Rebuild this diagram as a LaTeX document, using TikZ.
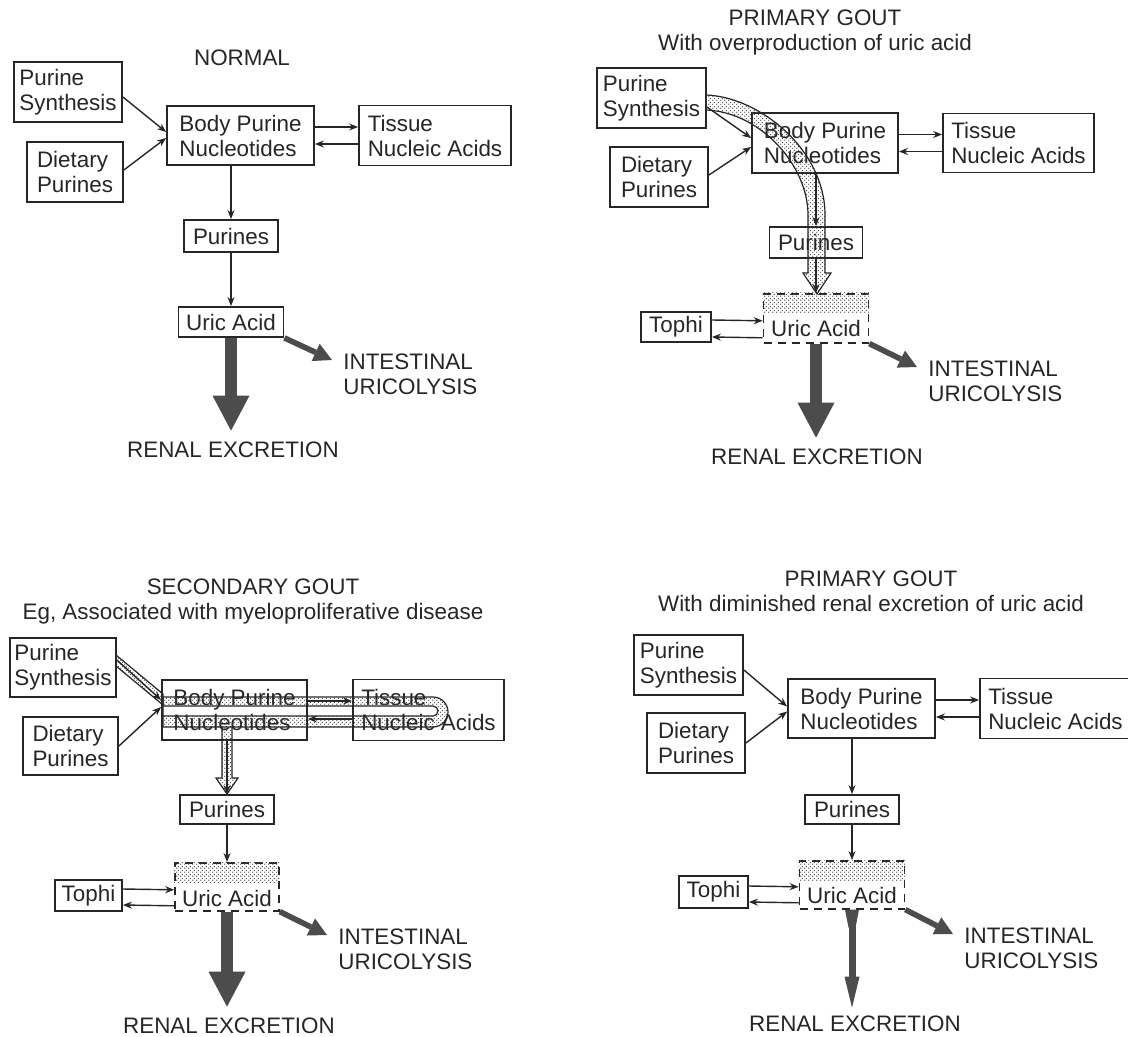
\documentclass[tikz,border=0pt]{standalone}
\usepackage{fontspec}
\setmainfont{Liberation Sans}
\usetikzlibrary{arrows.meta,patterns,calc}

\newcommand\diagfont{\fontsize{11.2}{12.5}\selectfont}
\definecolor{ink}{gray}{0.15}
\definecolor{heavy}{gray}{0.3}

% fine stipple for the extra uric acid
\pgfdeclarepatternformonly{fine dots}{\pgfpointorigin}{\pgfqpoint{2pt}{2pt}}{\pgfqpoint{2pt}{2pt}}{%
  \pgfpathcircle{\pgfqpoint{0.5pt}{0.5pt}}{0.42pt}%
  \pgfpathcircle{\pgfqpoint{1.5pt}{1.5pt}}{0.42pt}%
  \pgfusepath{fill}}

\tikzset{
  box/.style={draw=ink, line width=0.9pt, align=left, inner sep=2pt, font=\diagfont, text=ink},
  pool/.style={draw=ink, dash pattern=on 4pt off 3pt, line width=0.8pt, inner sep=0pt, font=\diagfont, text=ink},
  flow/.style={draw=ink, line width=0.7pt, -{Stealth[length=4.5pt,width=3.5pt]}},
  renal/.style={draw=heavy, line width=6pt, shorten >=5.5pt, -{Triangle[length=17.5pt,width=18.5pt,line width=0pt]}},
  gut/.style={draw=heavy, line width=2.8pt, -{Triangle[length=9pt,width=9.5pt,line width=0pt]}},
  stipple/.style={pattern=fine dots, pattern color=ink!80},
  band/.style={draw=ink, line width=0.6pt, stipple},
  lbl/.style={font=\diagfont, text=ink, align=left, inner sep=0pt},
  ttl/.style={font=\diagfont, text=ink, align=center, inner sep=0pt}
}

\begin{document}
\begin{tikzpicture}[x=0.5pt, y=-0.5pt]
\useasboundingbox (0,0) rectangle (1128,1037);

%% normal
\node[ttl] (t1) at (242,58) {NORMAL};
\node[box, minimum width=54pt, minimum height=30pt] (ps1) at (68,92) {Purine\\Synthesis};
\node[box, minimum width=48pt, minimum height=30pt] (dp1) at (75,172) {Dietary\\Purines};
\node[box, minimum width=73.5pt, minimum height=29.5pt] (bpn1) at (240.5,135.5) {Body Purine\\Nucleotides};
\node[box, minimum width=76pt, minimum height=30pt] (tna1) at (435,135.5) {Tissue\\Nucleic Acids};
\node[box, minimum width=47pt, minimum height=16pt] (pur1) at (231,236) {Purines};
\node[box, minimum width=52.5pt, minimum height=15pt] (ua1) at (231,322) {Uric Acid};
\node[lbl, anchor=north west] (in1) at (343,353) {INTESTINAL\\URICOLYSIS};
\node[lbl] (re1) at (233,450) {RENAL EXCRETION};
\draw[flow] ([yshift=-2.5pt]ps1.east) -- ([yshift=1.75pt]bpn1.west);
\draw[flow] ([yshift=1pt]dp1.east) -- ([yshift=-1.25pt]bpn1.west);
\draw[flow] ([yshift=4.25pt]bpn1.east) -- ([yshift=4.25pt]tna1.west);
\draw[flow] ([yshift=-4.25pt]tna1.west) -- ([yshift=-4.25pt]bpn1.east);
\draw[flow] (bpn1.south -| pur1.north) -- (pur1.north);
\draw[flow] (pur1.south) -- (ua1.north);
\draw[renal] (ua1.south) -- (ua1.south |- re1.north);
\draw[gut] (ua1.south east) -- ([xshift=-5.5pt,yshift=-3.5pt]in1.north west);

%% primary gout, overproduction
\node[ttl] (t2) at (815,33) {PRIMARY GOUT\\With overproduction of uric acid};
\node[box, minimum width=54.5pt, minimum height=30pt] (ps2) at (651.5,98) {Purine\\Synthesis};
\node[box, minimum width=49pt, minimum height=30pt] (dp2) at (659,177) {Dietary\\Purines};
\node[box, minimum width=73pt, minimum height=30pt] (bpn2) at (825,143) {Body Purine\\Nucleotides};
\node[box, minimum width=75.5pt, minimum height=29.5pt] (tna2) at (1018.5,143) {Tissue\\Nucleic Acids};
\node[box, minimum width=46.5pt, minimum height=15.5pt] (pur2) at (816,242.5) {Purines};
\node[pool, anchor=north, minimum width=52.5pt, text height=21.5pt, text depth=3pt] (ua2) at (816,293) {Uric Acid};
\node[box, minimum width=35pt, minimum height=15pt] (to2) at (676,327) {Tophi};
\node[lbl, anchor=north west] (in2) at (928,360) {INTESTINAL\\URICOLYSIS};
\node[lbl] (re2) at (817,457) {RENAL EXCRETION};
\fill[stipple] (ua2.north west) rectangle ($(ua2.north east)+(0,20)$);
% extra synthesis goes straight to the pool
\filldraw[band] (706,95) .. controls (760,97) and (825,150) .. (825,215) -- (825,273) -- (831,273) -- (817,294)
  -- (803,273) -- (808,273) -- (808,215) .. controls (808,165) and (760,112) .. (706,110) -- cycle;
\draw[flow] ([yshift=-4.5pt]ps2.east) -- ([yshift=2.5pt]bpn2.west);
\draw[flow] ([yshift=1pt]dp2.east) -- ([yshift=-2pt]bpn2.west);
\draw[flow] ([yshift=4.25pt]bpn2.east) -- ([yshift=4.25pt]tna2.west);
\draw[flow] ([yshift=-4.25pt]tna2.west) -- ([yshift=-4.25pt]bpn2.east);
\draw[flow] (bpn2.south -| pur2.north) -- (pur2.north);
\draw[flow] (pur2.south) -- (ua2.north);
\draw[flow] ([yshift=3.5pt]to2.east) -- ([yshift=-1.25pt]ua2.west);
\draw[flow] ([yshift=-9.75pt]ua2.west) -- ([yshift=-5pt]to2.east);
\draw[renal] (ua2.south) -- (ua2.south |- re2.north);
\draw[gut] (ua2.south east) -- ([xshift=-5.5pt,yshift=-3.5pt]in2.north west);

%% secondary gout
\node[ttl] (t3) at (253,601) {SECONDARY GOUT\\Eg, Associated with myeloproliferative disease};
\node[box, minimum width=53pt, minimum height=29.5pt] (ps3) at (63,667.5) {Purine\\Synthesis};
\node[box, minimum width=47.5pt, minimum height=29pt] (dp3) at (70.5,746) {Dietary\\Purines};
\node[box, minimum width=72.5pt, minimum height=30pt] (bpn3) at (234.5,710) {Body Purine\\Nucleotides};
\node[box, minimum width=75.5pt, minimum height=30.5pt] (tna3) at (428.5,710) {Tissue\\Nucleic Acids};
\node[box, minimum width=47pt, minimum height=14.5pt] (pur3) at (227,809.5) {Purines};
\node[pool, anchor=north, minimum width=52pt, text height=22pt, text depth=2pt] (ua3) at (227,862) {Uric Acid};
\node[box, minimum width=33.5pt, minimum height=15.5pt] (to3) at (88.5,895.5) {Tophi};
\node[lbl, anchor=north west] (in3) at (338,928) {INTESTINAL\\URICOLYSIS};
\node[lbl] (re3) at (229,1026) {RENAL EXCRETION};
\fill[stipple] (ua3.north west) rectangle ($(ua3.north east)+(0,20)$);
% faster turnover through the tissues
\filldraw[band] (116,655) -- (163,694) -- (163,705) -- (116,666) -- cycle;
\filldraw[band, even odd rule] (163,697) -- (433,697) arc (-90:90:15) -- (163,727) -- cycle
  (163,706) -- (433,706) arc (-90:90:5) -- (163,716) -- cycle;
\filldraw[band] (222,727) -- (222,778) -- (216,778) -- (227,794) -- (238,778) -- (232,778) -- (232,727);
\draw[flow] ([yshift=3.75pt]ps3.east) -- ([yshift=5pt]bpn3.west);
\draw[flow] (dp3.east) -- ([yshift=1.5pt]bpn3.west);
\draw[flow] ([yshift=4.5pt]bpn3.east) -- ([yshift=4.5pt]tna3.west);
\draw[flow] ([yshift=-4.5pt]tna3.west) -- ([yshift=-4.5pt]bpn3.east);
\draw[flow] (bpn3.south -| pur3.north) -- (pur3.north);
\draw[flow] (pur3.south) -- (ua3.north);
\draw[flow] ([yshift=3.25pt]to3.east) -- ([yshift=-1.5pt]ua3.west);
\draw[flow] ([yshift=-9.5pt]ua3.west) -- ([yshift=-4.75pt]to3.east);
\draw[renal] (ua3.south) -- (ua3.south |- re3.north);
\draw[gut] (ua3.south east) -- ([xshift=-5.5pt,yshift=-3.5pt]in3.north west);

%% primary gout, poor renal excretion
\node[ttl] (t4) at (871,591) {PRIMARY GOUT\\With diminished renal excretion of uric acid};
\node[box, minimum width=54.5pt, minimum height=30pt] (ps4) at (688.5,665) {Purine\\Synthesis};
\node[box, minimum width=49pt, minimum height=30pt] (dp4) at (696,743) {Dietary\\Purines};
\node[box, minimum width=73.5pt, minimum height=29.5pt] (bpn4) at (861.5,708.5) {Body Purine\\Nucleotides};
\node[box, minimum width=75.5pt, minimum height=30pt] (tna4) at (1055.5,708.5) {Tissue\\Nucleic Acids};
\node[box, minimum width=47pt, minimum height=14.5pt] (pur4) at (852,809.5) {Purines};
\node[pool, anchor=north, minimum width=52.5pt, text height=21.5pt, text depth=2.5pt] (ua4) at (852,860) {Uric Acid};
\node[box, minimum width=34.5pt, minimum height=16pt] (to4) at (713.5,892) {Tophi};
\node[lbl, anchor=north west] (in4) at (964,927) {INTESTINAL\\URICOLYSIS};
\node[lbl] (re4) at (855,1024) {RENAL EXCRETION};
\fill[stipple] (ua4.north west) rectangle ($(ua4.north east)+(0,20)$);
\draw[flow] ([yshift=-2.5pt]ps4.east) -- ([yshift=1pt]bpn4.west);
\draw[flow] (dp4.east) -- ([yshift=-1.5pt]bpn4.west);
\draw[flow] ([yshift=4.25pt]bpn4.east) -- ([yshift=4.25pt]tna4.west);
\draw[flow] ([yshift=-4.25pt]tna4.west) -- ([yshift=-4.25pt]bpn4.east);
\draw[flow] (bpn4.south -| pur4.north) -- (pur4.north);
\draw[flow] (pur4.south) -- (ua4.north);
\draw[flow] ([yshift=3pt]to4.east) -- ([yshift=-1pt]ua4.west);
\draw[flow] ([yshift=-9pt]ua4.west) -- ([yshift=-5pt]to4.east);
\fill[heavy] (ua4.south) ++(-7,0) -- ++(14,0) -- ++(-3.5,18) -- ++(-7,0) -- cycle;
\draw[renal, line width=3.5pt, shorten >=4pt, -{Triangle[length=15.5pt,width=7.5pt,line width=0pt]}]
  (ua4.south) -- (ua4.south |- re4.north);
\draw[gut] (ua4.south east) -- ([xshift=-5.5pt,yshift=-3.5pt]in4.north west);
\end{tikzpicture}
\end{document}
